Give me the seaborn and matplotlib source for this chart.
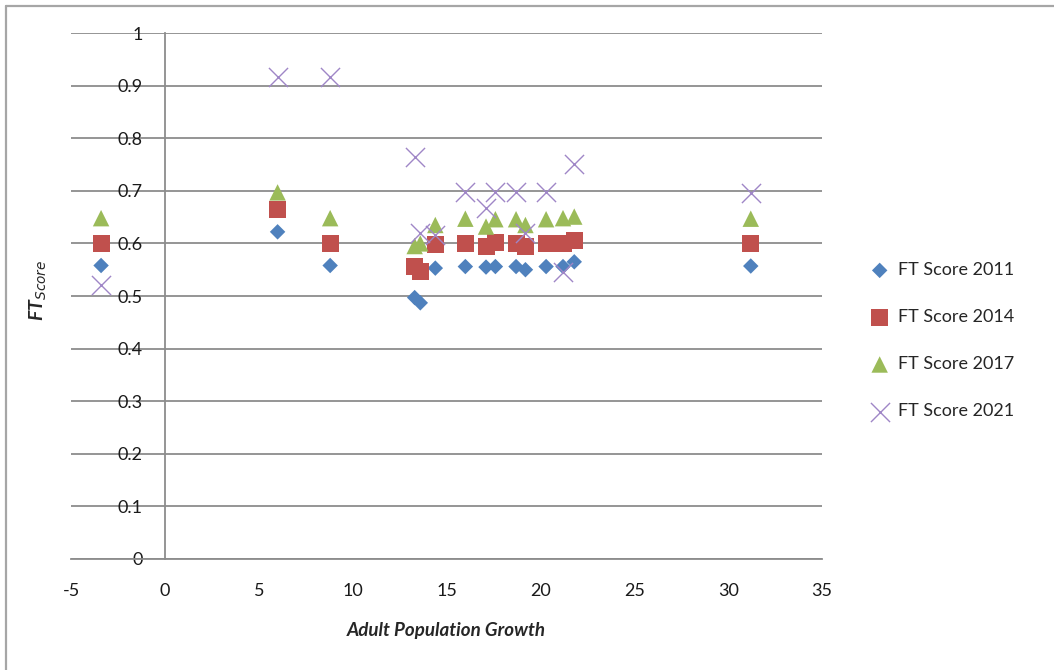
import matplotlib
matplotlib.use("Agg")
import matplotlib.pyplot as plt
from matplotlib.lines import Line2D
import seaborn as sns
import pandas as pd

# Adult population growth per country and the FT score in each survey year
growth = [-3.4, 6.0, 8.8, 13.3, 13.6, 14.4, 16.0, 17.1, 17.6, 18.7, 19.2, 20.3, 21.2, 21.8, 31.2]
ft_2011 = [0.558, 0.622, 0.558, 0.497, 0.487, 0.553, 0.556, 0.555, 0.556, 0.556, 0.550, 0.556, 0.556, 0.565, 0.557]
ft_2014 = [0.600, 0.665, 0.600, 0.557, 0.546, 0.597, 0.600, 0.595, 0.601, 0.600, 0.594, 0.600, 0.600, 0.606, 0.600]
ft_2017 = [0.648, 0.697, 0.648, 0.595, 0.600, 0.635, 0.647, 0.632, 0.646, 0.646, 0.635, 0.646, 0.648, 0.651, 0.647]
ft_2021 = [0.521, 0.916, 0.916, 0.765, 0.620, 0.616, 0.697, 0.667, 0.697, 0.697, 0.619, 0.697, 0.546, 0.751, 0.696]

series_labels = ["FT Score 2011", "FT Score 2014", "FT Score 2017", "FT Score 2021"]
x_ticks = [-5, 0, 5, 10, 15, 20, 25, 30, 35]
y_ticks = [0, 0.1, 0.2, 0.3, 0.4, 0.5, 0.6, 0.7, 0.8, 0.9, 1]
y_tick_labels = ["0", "0.1", "0.2", "0.3", "0.4", "0.5", "0.6", "0.7", "0.8", "0.9", "1"]

sns.set_theme(style="white")
plt.rcParams["font.family"] = ["Lato", "DejaVu Sans"]

# marker, colour, marker area, edge width per series
styles = [
    ("D", "#4F81BD", 62, 0),
    ("s", "#C0504D", 150, 0),
    ("^", "#9BBB59", 140, 0),
    ("x", "#9F86C7", 190, 1.0),
]

fig = plt.figure(figsize=(10.54, 6.70), dpi=100)
ax = fig.add_axes([0.0674, 0.1657, 0.7126, 0.7850])

for label, values, (marker, color, size, lw) in zip(
        series_labels, [ft_2011, ft_2014, ft_2017, ft_2021], styles):
    df = pd.DataFrame({"growth": growth, "score": values})
    if marker == "x":
        sns.scatterplot(data=df, x="growth", y="score", ax=ax, marker=marker,
                        s=size, color=color, linewidth=lw, label=label, zorder=3)
    else:
        sns.scatterplot(data=df, x="growth", y="score", ax=ax, marker=marker,
                        s=size, color=color, linewidth=0, edgecolor="none",
                        label=label, zorder=3)

ax.set_xlim(-5, 35)
ax.set_ylim(0, 1)
ax.set_xticks(x_ticks)
ax.set_xticklabels([str(t) for t in x_ticks])
ax.set_yticks(y_ticks)
ax.set_yticklabels(y_tick_labels)

grid_color = "#8C8C8C"
ax.yaxis.grid(True, color=grid_color, linewidth=1.3, zorder=1)
ax.xaxis.grid(False)
ax.set_axisbelow(True)

for side in ("top", "right"):
    ax.spines[side].set_visible(False)
ax.spines["left"].set_position(("data", 0))
ax.spines["bottom"].set_position(("data", 0))
for side in ("left", "bottom"):
    ax.spines[side].set_color(grid_color)
    ax.spines[side].set_linewidth(1.3)

ax.tick_params(axis="y", length=0, pad=16, labelsize=13, labelcolor="#1a1a1a")
ax.tick_params(axis="x", length=0, pad=17, labelsize=13, labelcolor="#1a1a1a")
for t in ax.get_yticklabels() + ax.get_xticklabels():
    t.set_zorder(5)

ax.set_xlabel("Adult Population Growth", fontsize=13.5, fontweight="bold",
              fontstyle="italic", labelpad=17)
ax.set_ylabel(r"FT$_{\mathit{Score}}$", fontsize=14, fontweight="bold",
              fontstyle="italic")
ax.yaxis.set_label_coords(-0.030, 0.51)

leg = ax.legend(loc="center left", bbox_to_anchor=(1.055, 0.415), frameon=False,
                fontsize=13, labelspacing=1.72, handlelength=1.0,
                handletextpad=0.5, borderaxespad=0)

# outer chart border: only its top and left edges fall inside the image
border = dict(transform=fig.transFigure, color="#A6A6A6", linewidth=1.6)
fig.add_artist(Line2D([0.0057, 1.0], [0.991, 0.991], **border))
fig.add_artist(Line2D([0.0057, 0.0057], [0.0, 0.991], **border))

fig.savefig("out.png", dpi=100, facecolor="white")
